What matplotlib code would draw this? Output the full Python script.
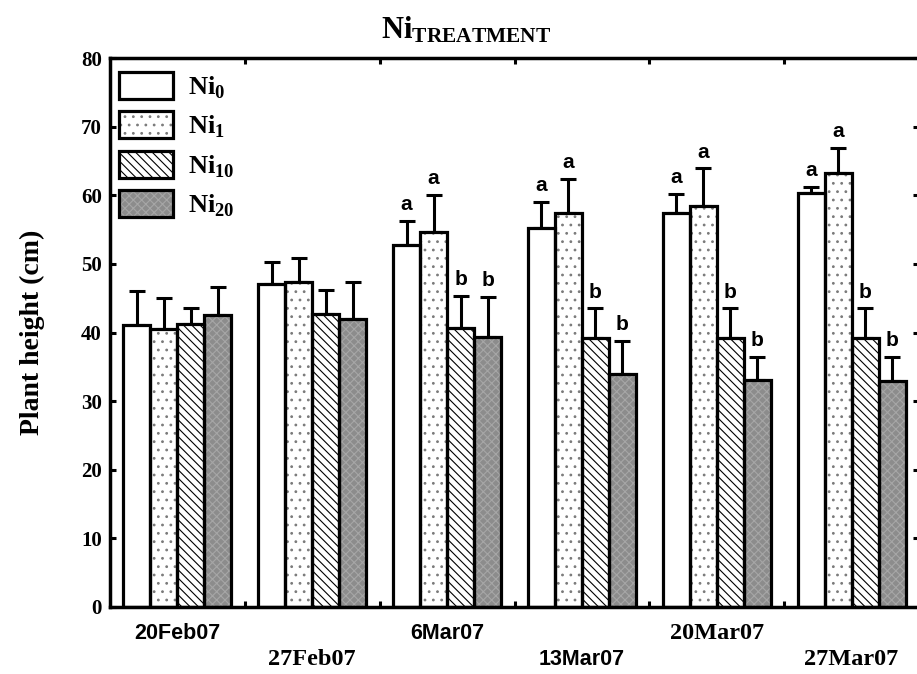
import matplotlib
matplotlib.use("Agg")
import matplotlib.pyplot as plt
from matplotlib.patches import Patch
from matplotlib.legend_handler import HandlerTuple
import numpy as np

plt.rcParams['mathtext.fontset'] = 'custom'
plt.rcParams['mathtext.rm'] = 'Liberation Serif'
plt.rcParams['mathtext.bf'] = 'Liberation Serif:bold'
plt.rcParams['hatch.linewidth'] = 0.8

# data
dates = ["20Feb07", "27Feb07", "6Mar07", "13Mar07", "20Mar07", "27Mar07"]
date_serif = [False, True, False, False, True, True]
date_low = [False, True, False, True, False, True]
series = ["Ni$_\\mathbf{0}$", "Ni$_\\mathbf{1}$", "Ni$_\\mathbf{10}$", "Ni$_\\mathbf{20}$"]
ni0 = [41.1, 47.0, 52.7, 55.2, 57.4, 60.3]
ni1 = [40.5, 47.3, 54.7, 57.4, 58.5, 63.3]
ni10 = [41.2, 42.7, 40.6, 39.2, 39.2, 39.2]
ni20 = [42.5, 42.0, 39.3, 34.0, 33.1, 33.0]
err0 = [5.0, 3.3, 3.5, 3.8, 2.8, 0.9]
err1 = [4.5, 3.5, 5.3, 5.0, 5.4, 3.6]
err10 = [2.3, 3.5, 4.7, 4.3, 4.3, 4.3]
err20 = [4.2, 5.3, 5.9, 4.7, 3.4, 3.5]
letters0 = ["", "", "a", "a", "a", "a"]
letters1 = ["", "", "a", "a", "a", "a"]
letters10 = ["", "", "b", "b", "b", "b"]
letters20 = ["", "", "b", "b", "b", "b"]

values = [ni0, ni1, ni10, ni20]
errors = [err0, err1, err10, err20]
letters = [letters0, letters1, letters10, letters20]

# fill, hatch, hatch colour per series
styles = [
    ("white", "", "white"),
    ("white", "..", "#7a7a7a"),
    ("white", "\\\\\\\\", "black"),
    ("#8c8c8c", "xxxx", "#a6a6a6"),
]

fig = plt.figure(figsize=(9.17, 6.74), dpi=100)
ax = fig.add_axes([110 / 917, 1 - 607 / 674, 809 / 917, 549 / 674])

x = np.arange(len(dates)) + 0.5
width = 0.2
offsets = [-0.3, -0.1, 0.1, 0.3]
handles = []
for k in range(4):
    fc, hatch, hc = styles[k]
    xs = x + offsets[k]
    ax.bar(xs, values[k], width, color=fc, hatch=hatch, edgecolor=hc,
           linewidth=0, zorder=2)
    ax.bar(xs, values[k], width, fill=False, edgecolor="black",
           linewidth=2.3, zorder=3)
    ax.errorbar(xs, values[k], yerr=[np.zeros(len(dates)), errors[k]],
                fmt="none", ecolor="black", elinewidth=2.2, capsize=5.5,
                capthick=2.2, zorder=1)
    for xi, v, e, lab in zip(xs, values[k], errors[k], letters[k]):
        if lab:
            ax.annotate(lab, (xi, v + e), xytext=(0, 5), textcoords="offset points",
                        ha="center", va="bottom", fontsize=15, fontweight="bold",
                        family="Liberation Sans")
    h_fill = Patch(facecolor=fc, hatch=hatch, edgecolor=hc, linewidth=0)
    h_edge = Patch(fill=False, edgecolor="black", linewidth=2.3)
    handles.append((h_fill, h_edge))

ax.set_xlim(0, 6)
ax.set_ylim(0, 80)
ax.set_yticks(np.arange(0, 81, 10))
ax.set_xticks(np.arange(1, 6))
ax.set_xticklabels([])
ax.tick_params(axis="both", direction="in", length=4, width=2.2,
               top=True, right=True)
ax.tick_params(axis="y", labelsize=15, pad=6)
for lab in ax.get_yticklabels():
    lab.set_fontfamily("Liberation Serif")
    lab.set_fontweight("bold")
for sp in ax.spines.values():
    sp.set_linewidth(2.5)

for xi, d, serif, low in zip(x, dates, date_serif, date_low):
    ax.text(xi, -0.096 if low else -0.048, d, transform=ax.get_xaxis_transform(),
            ha="center", va="center", fontweight="bold",
            family="Liberation Serif" if serif else "Liberation Sans",
            fontsize=17.5 if serif else 15.5)

ax.set_ylabel("Plant height (cm)", fontsize=20, fontweight="bold",
              family="Liberation Serif", labelpad=26)

leg = ax.legend(handles, series, handler_map={tuple: HandlerTuple(ndivide=1, pad=0)},
                loc="upper left", bbox_to_anchor=(0.011, 0.975), frameon=False,
                borderaxespad=0, borderpad=0, handlelength=2.05, handleheight=1.2,
                labelspacing=0.4, handletextpad=0.55,
                prop={"family": "Liberation Serif", "weight": "bold", "size": 19})
leg.set_zorder(5)

fig.text(466 / 917, 1 - 30 / 674, r"$\mathbf{Ni_{TREATMENT}}$", ha="center",
         va="center", fontsize=22)

fig.savefig("out.png", dpi=100)
